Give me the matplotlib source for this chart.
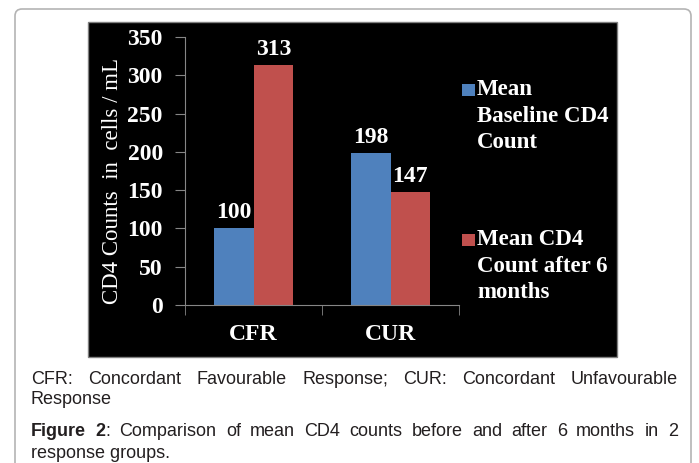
import matplotlib
matplotlib.use("Agg")
import matplotlib.pyplot as plt
from matplotlib.patches import Rectangle, FancyBboxPatch
import numpy as np

# data
groups = ["CFR", "CUR"]
series = ["Mean\nBaseline CD4\nCount", "Mean CD4\nCount after 6\nmonths"]
baseline = [100, 198]
after6 = [313, 147]
yticks = [0, 50, 100, 150, 200, 250, 300, 350]
colors = ["#4F81BD", "#C0504D"]
ylabel = "CD4 Counts  in  cells / mL"
note1 = "CFR: Concordant Favourable Response; CUR: Concordant Unfavourable"
note2 = "Response"
fig1 = ": Comparison of mean CD4 counts before and after 6 months in 2"
fig2 = "response groups."

W, H = 699, 463
SERIF = "Liberation Serif"
SANS = "Liberation Sans"
CAP = 13  # caption font size
fx = lambda x: x / W
fy = lambda y: 1 - y / H

fig = plt.figure(figsize=(W / 100, H / 100), dpi=100)
fig.patch.set_facecolor("white")

# outer rounded frame (bottom runs off the image)
fig.patches.append(FancyBboxPatch((fx(15), fy(480)), fx(691 - 15), (480 - 9) / H,
                                  boxstyle="round,pad=0,rounding_size=0.01", mutation_aspect=W / H,
                                  transform=fig.transFigure, facecolor="white", edgecolor="#b4b4b4",
                                  lw=1.2, zorder=-10, clip_on=False))
# black chart panel
fig.patches.append(Rectangle((fx(88), fy(357)), fx(617 - 88), (357 - 22) / H, transform=fig.transFigure,
                             facecolor="black", edgecolor="#808080", lw=1, zorder=-5))

ax = fig.add_axes([185 / W, 1 - 305 / H, 274 / W, 268 / H])
ax.set_facecolor("none")
x = np.arange(len(groups)); w = 0.29
ax.bar(x - w / 2, baseline, w, color=colors[0], zorder=2)
ax.bar(x + w / 2, after6, w, color=colors[1], zorder=2)
for xs, vals in [(x - w / 2, baseline), (x + w / 2, after6)]:
    for xi, v in zip(xs, vals):
        ax.annotate(str(v), (xi, v), xytext=(0, 11.5), textcoords="offset points", ha="center", va="center",
                    color="white", fontsize=17, fontweight="bold", family=SERIF)

ax.set_xlim(-0.5, 1.5); ax.set_ylim(0, 350)
ax.set_yticks(yticks)
ax.set_yticklabels([str(t) for t in yticks], color="white", fontsize=17, fontweight="bold", family=SERIF)
ax.set_xticks(x)
ax.set_xticklabels(groups, color="white", fontsize=17, fontweight="bold", family=SERIF)
ax.set_xticks([-0.5, 0.5, 1.5], minor=True)
ax.tick_params(axis="y", direction="out", length=7, color="#868686", pad=9)
ax.tick_params(axis="x", which="major", length=0, pad=14)
ax.tick_params(axis="x", which="minor", direction="out", length=7, color="#868686")
for s in ["top", "right"]:
    ax.spines[s].set_visible(False)
for s in ["left", "bottom"]:
    ax.spines[s].set_color("#868686")

fig.text(fx(113), fy(181), ylabel, rotation=90, ha="center", va="center", color="white",
         fontsize=16.5, family=SERIF)

# legend drawn by hand (multi-line entries, marker on first line)
for lab, col, ytop in zip(series, colors, [79, 229]):
    fig.patches.append(Rectangle((fx(462), fy(ytop + 17)), fx(13), 12 / H, transform=fig.transFigure,
                                 facecolor=col, edgecolor="none"))
    fig.text(fx(477), fy(ytop), lab, ha="left", va="top", color="white", fontsize=16.5,
             fontweight="bold", family=SERIF, linespacing=1.35)

# caption, justified lines
r = fig.canvas.get_renderer()
def put(xp, yp, s, weight="normal"):
    t = fig.text(fx(xp), fy(yp), s, ha="left", va="center", fontsize=CAP, family=SANS,
                 fontweight=weight, color="#231f20")
    return t.get_window_extent(r).width

def justify(yp, words, x0=31, x1=678):
    # words: list of lists of (text, weight)
    tmp = []
    for wd in words:
        wid = 0
        for s, wt in wd:
            t = fig.text(0, 0, s, fontsize=CAP, family=SANS, fontweight=wt)
            wid += t.get_window_extent(r).width
            t.remove()
        tmp.append(wid)
    gap = (x1 - x0 - sum(tmp)) / (len(words) - 1)
    xp = x0
    for wd, wid in zip(words, tmp):
        xx = xp
        for s, wt in wd:
            xx += put(xx, yp, s, wt)
        xp += wid + gap

justify(380, [[(wd, "normal")] for wd in note1.split()])
put(31, 400, note2)
fwords = [[("Figure", "bold")], [("2", "bold"), (fig1.split()[0], "normal")]] + \
         [[(wd, "normal")] for wd in fig1.split()[1:]]
justify(432, fwords)
put(31, 453, fig2)

fig.savefig("out.png", dpi=100)
